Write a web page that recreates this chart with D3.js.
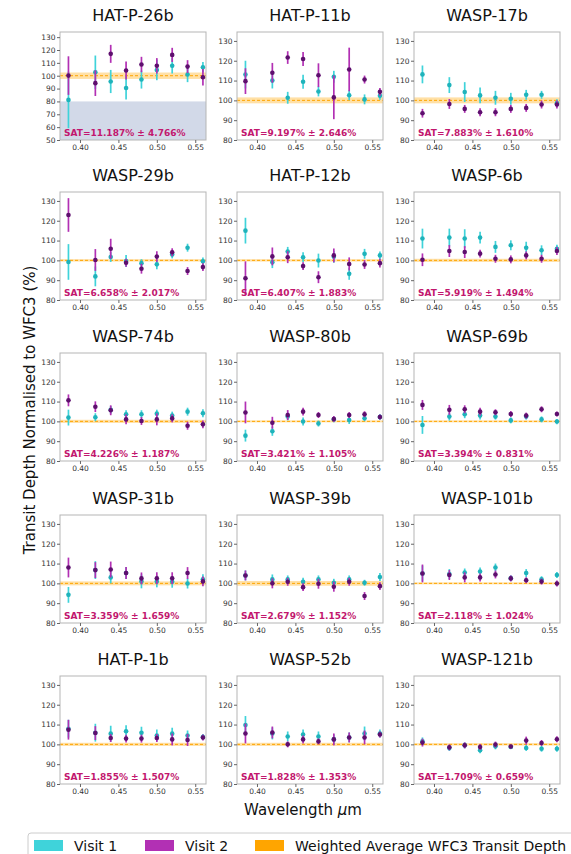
<!DOCTYPE html>
<html>
<head>
<meta charset="utf-8">
<script src="https://cdn.jsdelivr.net/npm/d3@7"></script>
<style>
  html, body { margin: 0; padding: 0; background: #fff; }
  svg { display: block; font-family: "DejaVu Sans", sans-serif; }
</style>
</head>
<body>
<svg id="chart" width="571" height="854"></svg>
<script>
// ---------------- DATA ----------------
const planets = ["HAT-P-26b","HAT-P-11b","WASP-17b","WASP-29b","HAT-P-12b","WASP-6b",
  "WASP-74b","WASP-80b","WASP-69b","WASP-31b","WASP-39b","WASP-101b","HAT-P-1b","WASP-52b","WASP-121b"];
const satLabels = ["SAT=11.187% ± 4.766%","SAT=9.197% ± 2.646%","SAT=7.883% ± 1.610%",
  "SAT=6.658% ± 2.017%","SAT=6.407% ± 1.883%","SAT=5.919% ± 1.494%",
  "SAT=4.226% ± 1.187%","SAT=3.421% ± 1.105%","SAT=3.394% ± 0.831%",
  "SAT=3.359% ± 1.659%","SAT=2.679% ± 1.152%","SAT=2.118% ± 1.024%",
  "SAT=1.855% ± 1.507%","SAT=1.828% ± 1.353%","SAT=1.709% ± 0.659%"];
const wavelengths = [0.385, 0.42, 0.44, 0.46, 0.48, 0.50, 0.52, 0.54, 0.56];
const visit1 = [
  [81.2,102.7,95.5,90.5,97,104.5,107.7,101,106.6],
  [113,110,101.3,109.4,104.5,111.9,102.6,100.5,102.3],
  [113.1,107.7,104.2,102.5,101.3,100.8,102.8,102.8,98.6],
  [99.2,91.9,101.7,99.7,98.6,98,103,106.4,99.5],
  [115,99.1,104.5,101.6,99.9,101.8,93.2,103.3,102.5],
  [111,111.5,111,111.5,106.8,107.6,106.4,105.1,105.9],
  [101.9,102.1,105.8,103.6,103.6,103.9,102.9,104.9,104.1],
  [92.8,95,102.5,99.9,98.9,101,100.7,101.6,102.2],
  [98.2,102.4,103.6,102.9,102.4,100.5,102.4,101,99.9],
  [94.2,106.7,103,105.2,101,101,100.8,99.9,102.1],
  [104,102,102,100.8,102,100.3,102,100.3,103.2],
  [105,104.7,105.5,106,108,102.6,105.2,102.1,104.2],
  [107.9,105.9,105.4,106.6,105.9,104.5,105.4,104.5,103.7],
  [109.8,105.5,104,105,104,102.5,103.5,105.5,105.5],
  [101.5,98.2,99.5,97,99,98.7,98.2,97.8,97.8]
];
const visit1Err = [
  [22,13,9,9,7,8,6,6,4],
  [7,4,3,3.5,2.5,3,2.5,2.5,2],
  [4.5,4,5,4,3.5,3,2.5,2,2],
  [9,5,2.5,3,2,2.5,2,2,2],
  [6.5,3,2.3,2.5,3.5,3,3,2.5,2],
  [5,4.5,4.7,3,3,2.5,3,2.5,2],
  [4,2,2,2,2,2,2,2,2],
  [3,2.3,2,2,1.5,1.5,2,1.5,1.5],
  [4.5,2,2,2,1.5,1.5,1.5,1.5,1.3],
  [4,4.5,3,3,3.5,3,3,2.5,2.5],
  [2.5,2.5,2,2,2,2,2,1.5,2],
  [4,2.5,2,2,2,1.5,2,1.5,1.5],
  [4.5,4.5,4,3,3,3,3,2.5,1.5],
  [4.5,3,2.5,2.5,2.5,2.5,2.5,3.5,2],
  [2,1.5,1.5,1.5,1.5,1,1.5,1.5,1.5]
];
const visit2 = [
  [100.1,94.2,117,104,108.7,107.7,116.2,107.1,98.8],
  [109.7,113.9,121.6,120.9,112.7,101.5,115.6,110.5,104.3],
  [93.5,98.2,95.7,94,94,95.7,96.2,97.9,97.9],
  [122.9,100.2,105.9,98.8,95.8,101.9,104.1,94.6,96.6],
  [91,102,101.6,97.1,91.5,102.5,98.2,97.9,98.6],
  [100.3,104.7,104.2,103.4,100.8,100.5,102.5,100.8,104.7],
  [110.6,107.4,105.6,101,100.2,101,101.5,97.8,98.5],
  [104.5,99.3,103.2,104.9,103.2,101.2,103.2,103.6,102.2],
  [108.3,105.8,106.1,104.9,104.6,103.7,102.9,106.1,103.7],
  [108,106.7,107,105.2,102.5,102.6,102.6,105.2,101],
  [104,100,100.8,98.1,99.8,98.3,100.8,93.6,98.6],
  [105,104.2,103,103,104.5,102.5,101.6,100.9,99.9],
  [107.4,105.7,103.2,102.9,102.9,103.2,102.5,102.2,103.5],
  [105.5,106,100,102.5,101.5,102.5,103.5,103.5,105],
  [100.9,98.5,99.5,98.7,99.9,98.9,101.9,100.7,102.6]
];
const visit2Err = [
  [15,10,7,7,6,6,5.5,5,6.5],
  [6.5,5,3.2,3.5,6,11,11,2,2],
  [2.2,2.5,2,2,2,2,2,2,2],
  [8.5,5.5,5,2,2.5,2.7,2,2,2],
  [8.5,4.5,3,2,3,3.5,3.3,2.2,2.2],
  [3.2,3,3,2,2,2,2,2,2],
  [3,2.7,2.5,2.5,2,3,2,2,2],
  [5.5,3,2.5,2,1.5,1.5,1.5,1.5,1.3],
  [2.5,2.5,2,2,1.5,1.5,1.5,1.5,1.3],
  [5,4,4,3,3,3,3,3,2.5],
  [2.5,2.5,2,2,2.5,2.5,2,2,2],
  [4.5,2.5,2.5,2,2,1.5,1.5,1.5,1.5],
  [5,3.5,2,2,2,2,3,3,1.5],
  [5,3,1.5,2,1.5,3,2.5,3.5,1.5],
  [2,1.5,1.5,1.5,1.5,1,2,1.5,1.5]
];
const wfc3Unc = [2.5,1.5,1.5,0.6,0.6,0.8,0.8,0.5,0.5,1.0,1.2,0.5,0.8,0.8,0.6];
const xTicks = [0.40, 0.45, 0.50, 0.55];
const yTicksDefault = [80, 90, 100, 110, 120, 130];
const yTicksFirst = [50, 60, 70, 80, 90, 100, 110, 120, 130];
const legendLabels = ["Visit 1", "Visit 2", "Weighted Average WFC3 Transit Depth"];

// ---------------- STYLE ----------------
const c1Bar = "#3fd3da", c1Pt = "#1fb3bb";
const c2Bar = "#b230b4", c2Pt = "#5e0f6e";
const orange = "#ffa500";
const satColor = "#c2176e";

const svg = d3.select("#chart");
const colLeft = [60, 237, 414];
const rowTop = [32, 192, 353, 515, 676];
const pw = 146, ph = 108;

planets.forEach((name, i) => {
  const col = i % 3, row = Math.floor(i / 3);
  const g = svg.append("g").attr("transform", `translate(${colLeft[col]},${rowTop[row]})`);
  const first = i === 0;
  const x = d3.scaleLinear().domain([0.374, 0.564]).range([0, pw]);
  const y = d3.scaleLinear().domain(first ? [50, 134] : [80, 134.5]).range([ph, 0]);

  g.append("defs").append("clipPath").attr("id", "clip" + i)
    .append("rect").attr("width", pw).attr("height", ph);
  const plot = g.append("g").attr("clip-path", `url(#clip${i})`);

  if (first) {
    plot.append("rect").attr("x", 0).attr("width", pw)
      .attr("y", y(80)).attr("height", y(50) - y(80)).attr("fill", "#d2d9e8");
  }
  // WFC3 band
  plot.append("rect").attr("x", 0).attr("width", pw)
    .attr("y", y(100 + wfc3Unc[i])).attr("height", y(100 - wfc3Unc[i]) - y(100 + wfc3Unc[i]))
    .attr("fill", orange).attr("opacity", 0.35);
  plot.append("line").attr("x1", 0).attr("x2", pw).attr("y1", y(100)).attr("y2", y(100))
    .attr("stroke", orange).attr("stroke-width", 1).attr("stroke-dasharray", "3,2");

  const series = [
    {vals: visit1[i], errs: visit1Err[i], bar: c1Bar, pt: c1Pt},
    {vals: visit2[i], errs: visit2Err[i], bar: c2Bar, pt: c2Pt}
  ];
  series.forEach(s => {
    const pts = wavelengths.map((w, k) => ({w, v: s.vals[k], e: s.errs[k]}));
    plot.selectAll(null).data(pts).enter().append("line")
      .attr("x1", d => x(d.w)).attr("x2", d => x(d.w))
      .attr("y1", d => y(d.v - d.e)).attr("y2", d => y(d.v + d.e))
      .attr("stroke", s.bar).attr("stroke-width", 1.7);
    plot.selectAll(null).data(pts).enter().append("circle")
      .attr("cx", d => x(d.w)).attr("cy", d => y(d.v)).attr("r", 2.3)
      .attr("fill", s.pt);
  });

  // frame
  g.append("rect").attr("width", pw).attr("height", ph)
    .attr("fill", "none").attr("stroke", "#b5b5b5").attr("stroke-width", 1);

  // axes
  const xAxis = d3.axisBottom(x).tickValues(xTicks).tickFormat(d3.format(".2f"))
    .tickSize(3).tickPadding(2);
  const gx = g.append("g").attr("transform", `translate(0,${ph})`).call(xAxis);
  const yAxis = d3.axisLeft(y).tickValues(first ? yTicksFirst : yTicksDefault)
    .tickSize(3).tickPadding(1.5);
  const gy = g.append("g").call(yAxis);
  [gx, gy].forEach(a => {
    a.select(".domain").remove();
    a.selectAll(".tick line").attr("stroke", "#666");
    a.selectAll(".tick text").attr("fill", "#333")
      .style("font-family", "DejaVu Sans").style("font-size", "7.5px");
  });

  // title
  g.append("text").attr("x", pw / 2).attr("y", -11).attr("text-anchor", "middle")
    .style("font-size", "16px").attr("fill", "#111").text(name);

  // SAT label
  g.append("text").attr("x", 4).attr("y", ph - 4)
    .style("font-size", "9px").style("font-weight", "bold")
    .attr("fill", satColor).text(satLabels[i]);
});

// axis titles
svg.append("text")
  .attr("transform", "translate(35,410) rotate(-90)")
  .attr("text-anchor", "middle").style("font-size", "15px").attr("fill", "#111")
  .text("Transit Depth Normalised to WFC3 (%)");
const xl = svg.append("text").attr("x", 303).attr("y", 815).attr("text-anchor", "middle")
  .style("font-size", "15px").attr("fill", "#111");
xl.append("tspan").text("Wavelength ");
xl.append("tspan").style("font-style", "italic").text("μ");
xl.append("tspan").text("m");

// legend
const leg = svg.append("g");
leg.append("rect").attr("x", 28).attr("y", 833).attr("width", 560).attr("height", 30)
  .attr("rx", 3).attr("fill", "#fff").attr("stroke", "#cccccc");
const legColors = [c1Bar, c2Bar, orange];
const legPatchX = [34, 145, 255];
legendLabels.forEach((lab, k) => {
  leg.append("rect").attr("x", legPatchX[k]).attr("y", 840).attr("width", 29).attr("height", 11)
    .attr("fill", legColors[k]);
  leg.append("text").attr("x", legPatchX[k] + 40).attr("y", 851)
    .style("font-size", "14px").attr("fill", "#111").text(lab);
});
</script>
</body>
</html>
